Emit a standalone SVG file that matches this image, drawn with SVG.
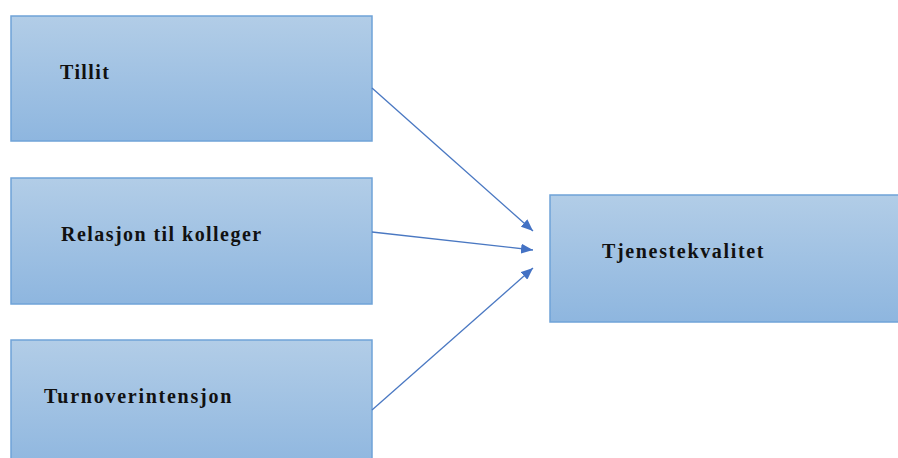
<svg xmlns="http://www.w3.org/2000/svg" width="898" height="458" viewBox="0 0 898 458">
  <style>
    .box { fill: url(#boxFill); stroke: #6fa3d8; stroke-width: 1.5; }
    .label { font-family: "Liberation Serif", "Times New Roman", serif; font-weight: bold; font-size: 20px; fill: #111; }
    .link { stroke: #4a78c2; stroke-width: 1.3; fill: none; marker-end: url(#head); }
  </style>
  <defs>
    <linearGradient id="boxFill" x1="0" y1="0" x2="0" y2="1">
      <stop offset="0" stop-color="#b2cde7"/>
      <stop offset="1" stop-color="#8eb6df"/>
    </linearGradient>
    <marker id="head" viewBox="0 0 12 10" refX="12" refY="5" markerWidth="12" markerHeight="10" markerUnits="userSpaceOnUse" orient="auto">
      <path d="M0,0 L12,5 L0,10 Z" fill="#4472c4"/>
    </marker>
  </defs>

  <g id="tillit">
    <rect class="box" x="11" y="16" width="361" height="125"/>
    <text class="label" x="60" y="79" letter-spacing="1.4">Tillit</text>
  </g>
  <g id="relasjon">
    <rect class="box" x="11" y="178" width="361" height="126"/>
    <text class="label" x="61" y="241" letter-spacing="1.45">Relasjon til kolleger</text>
  </g>
  <g id="turnover">
    <rect class="box" x="11" y="340" width="361" height="130"/>
    <text class="label" x="44" y="403" letter-spacing="1.75">Turnoverintensjon</text>
  </g>
  <g id="tjenestekvalitet">
    <rect class="box" x="550" y="195" width="360" height="127"/>
    <text class="label" x="602" y="258" letter-spacing="1.65">Tjenestekvalitet</text>
  </g>

  <g id="connectors">
    <line class="link" x1="372" y1="88" x2="533" y2="231"/>
    <line class="link" x1="372" y1="232" x2="533" y2="250"/>
    <line class="link" x1="372" y1="410" x2="533" y2="268"/>
  </g>
</svg>
